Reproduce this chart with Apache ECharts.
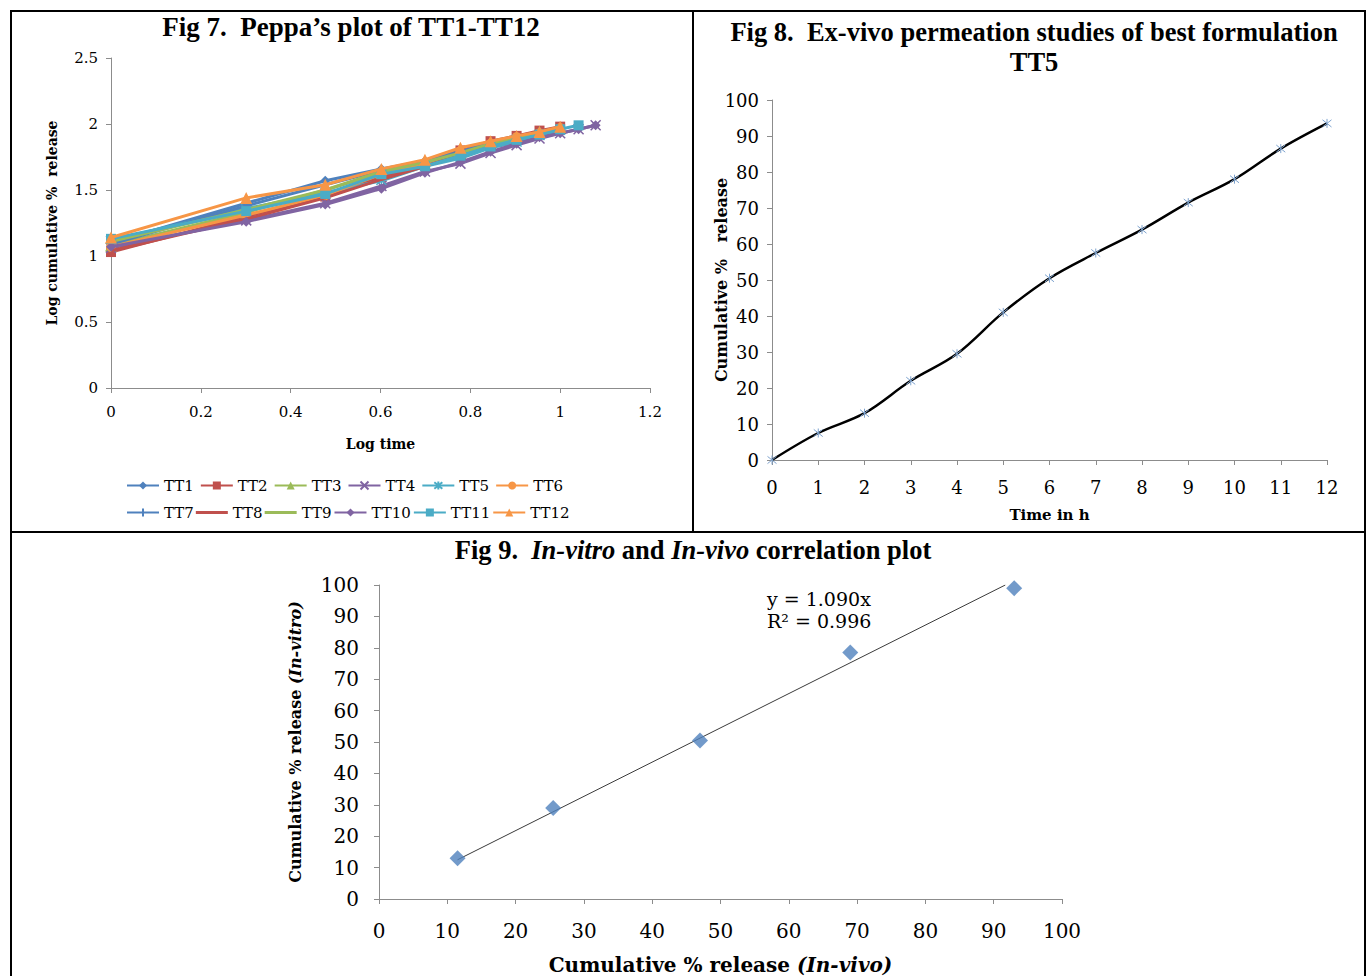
<!DOCTYPE html>
<html>
<head>
<meta charset="utf-8">
<script src="https://cdn.jsdelivr.net/npm/echarts@6/dist/echarts.min.js"></script>
<style>
html,body{margin:0;padding:0;background:#fff;}
#c{width:1366px;height:976px;}
</style>
</head>
<body>
<div id="c"></div>
<script>
// ---------- Fig 7 data (Peppas plot) ----------
const logTime = [0, 0.301, 0.477, 0.602, 0.699, 0.778, 0.845, 0.903, 0.954, 1.0, 1.041, 1.079];
const seriesNames7 = ["TT1","TT2","TT3","TT4","TT5","TT6","TT7","TT8","TT9","TT10","TT11","TT12"];
const TT1  = [1.10, 1.40, 1.57, 1.66, 1.72, 1.80, 1.86, 1.91, 1.94, 1.97];
const TT2  = [1.03, 1.30, 1.45, 1.60, 1.69, 1.80, 1.87, 1.91, 1.95, 1.98];
const TT3  = [1.08, 1.33, 1.50, 1.63, 1.70, 1.78, 1.85, 1.90, 1.94, 1.97];
const TT4  = [1.06, 1.27, 1.40, 1.53, 1.64, 1.70, 1.78, 1.84, 1.89, 1.93, 1.96, 1.99];
const TT5  = [1.12, 1.36, 1.48, 1.57, 1.68, 1.74, 1.82, 1.86, 1.91, 1.95];
const TT6  = [1.07, 1.31, 1.46, 1.62, 1.70, 1.79, 1.85, 1.90, 1.93, 1.97];
const TT7  = [1.09, 1.38, 1.54, 1.65, 1.72, 1.79, 1.86, 1.90, 1.94, 1.97];
const TT8  = [1.04, 1.28, 1.44, 1.58, 1.68, 1.77, 1.84, 1.89, 1.93, 1.96];
const TT9  = [1.11, 1.35, 1.50, 1.64, 1.71, 1.78, 1.85, 1.89, 1.93, 1.97];
const TT10 = [1.07, 1.26, 1.39, 1.51, 1.63, 1.71, 1.79, 1.85, 1.90, 1.93, 1.96, 1.99];
const TT11 = [1.13, 1.34, 1.47, 1.62, 1.68, 1.76, 1.83, 1.88, 1.92, 1.96, 1.99];
const TT12 = [1.14, 1.44, 1.54, 1.66, 1.73, 1.82, 1.87, 1.91, 1.94, 1.98];
const values7 = [TT1,TT2,TT3,TT4,TT5,TT6,TT7,TT8,TT9,TT10,TT11,TT12];

// ---------- Fig 8 data ----------
const timeH = [0,1,2,3,4,5,6,7,8,9,10,11,12];
const cumRelease = [0, 7.5, 13, 22, 29.5, 41, 50.5, 57.5, 64, 71.5, 78, 86.5, 93.5];

// ---------- Fig 9 data ----------
const inVivo  = [11.5, 25.5, 47, 69, 93];
const inVitro = [13, 29, 50.5, 78.5, 99];
const trendX = [11.5, 91.7];
const trendY = [12.5, 100];

// ---------- styles ----------
const colors7 = ["#4F81BD","#C0504D","#9BBB59","#8064A2","#4BACC6","#F79646",
                 "#4F81BD","#C0504D","#9BBB59","#8064A2","#4BACC6","#F79646"];
const crossPath = "path://M0,0L10,10M10,0L0,10";
const starPath = "path://M0,1L10,9M10,1L0,9M5,0L5,10";
const plusPath = "path://M0,5L0.01,5M5,0L5,10M9.99,5L10,5";
const lineIcon = "path://M0,0L0.01,0M0,3.5L32,3.5L32,6.5L0,6.5ZM0,10L0.01,10";
const symbols7 = ["diamond","rect","triangle",crossPath,starPath,"circle",
                  plusPath,"none","none","diamond","rect","triangle"];
const axisFont = "DejaVu Serif";
const titleFont = "Liberation Serif";
const axisLineStyle = {color:"#8c8c8c", width:1};

function pairs(xs, ys){ return ys.map((v,i)=>[xs[i], v]); }

const series = [];
values7.forEach((vals, k) => {
  const sym = symbols7[k];
  const isPath = typeof sym === "string" && sym.indexOf("path://") === 0;
  series.push({
    name: seriesNames7[k], type: "line", xAxisIndex: 0, yAxisIndex: 0,
    data: pairs(logTime, vals),
    symbol: sym, symbolSize: isPath ? 10 : (sym === "triangle" ? 12 : 10),
    showSymbol: sym !== "none",
    lineStyle: {color: colors7[k], width: 3},
    itemStyle: {color: isPath ? "rgba(0,0,0,0)" : colors7[k], borderColor: colors7[k], borderWidth: isPath ? 1.5 : 0},
    z: 2 + k, animation: false
  });
});

series.push({
  name: "Fig8", type: "line", xAxisIndex: 1, yAxisIndex: 1,
  data: pairs(timeH, cumRelease), smooth: 0.35,
  symbol: starPath, symbolSize: 9,
  lineStyle: {color: "#000", width: 2.5},
  itemStyle: {color: "rgba(0,0,0,0)", borderColor: "#7ea3cf", borderWidth: 1},
  z: 3, animation: false
});

series.push({
  name: "Trend", type: "line", xAxisIndex: 2, yAxisIndex: 2,
  data: pairs(trendX, trendY), symbol: "none",
  lineStyle: {color: "#3a3a3a", width: 1}, z: 2, animation: false
});
series.push({
  name: "Fig9", type: "scatter", xAxisIndex: 2, yAxisIndex: 2,
  data: pairs(inVivo, inVitro), symbol: "diamond", symbolSize: 16,
  itemStyle: {color: "#4F81BD"}, z: 3, animation: false
});

function legendRow(names, top, gap){
  return {
    data: names.map((n, i) => symbols7[seriesNames7.indexOf(n)] === "none" ? {name: n, icon: lineIcon} : n),
    left: 121, top: top, orient: "horizontal",
    itemWidth: 32, itemHeight: 10, itemGap: gap,
    textStyle: {fontFamily: axisFont, fontSize: 15, color: "#000"},
    selectedMode: false
  };
}

const bigTitle = "bold 27px 'Liberation Serif'";

const option = {
  backgroundColor: "#fff",
  animation: false,
  grid: [
    {left: 111, top: 58, width: 539, height: 330},
    {left: 772, top: 100, width: 555, height: 360},
    {left: 379, top: 585, width: 683, height: 317}
  ],
  legend: [
    legendRow(seriesNames7.slice(0,6), 473, 6),
    legendRow(seriesNames7.slice(6), 500, 2)
  ],
  xAxis: [
    {gridIndex: 0, type: "value", min: 0, max: 1.2, interval: 0.2,
     splitLine: {show: false}, axisLine: {lineStyle: axisLineStyle},
     axisTick: {lineStyle: axisLineStyle, length: 5},
     axisLabel: {fontFamily: axisFont, fontSize: 15, color: "#000", margin: 16},
     name: "Log time", nameLocation: "middle", nameGap: 49, nameMoveOverlap: false,
     nameTextStyle: {fontFamily: axisFont, fontSize: 14, fontWeight: "bold", color: "#000"}},
    {gridIndex: 1, type: "value", min: 0, max: 12, interval: 1,
     splitLine: {show: false}, axisLine: {lineStyle: axisLineStyle},
     axisTick: {lineStyle: axisLineStyle, length: 5},
     axisLabel: {fontFamily: axisFont, fontSize: 18, color: "#000", margin: 18},
     name: "Time in h", nameLocation: "middle", nameGap: 47, nameMoveOverlap: false,
     nameTextStyle: {fontFamily: axisFont, fontSize: 15, fontWeight: "bold", color: "#000"}},
    {gridIndex: 2, type: "value", min: 0, max: 100, interval: 10,
     splitLine: {show: false}, axisLine: {lineStyle: axisLineStyle},
     axisTick: {lineStyle: axisLineStyle, length: 5},
     axisLabel: {fontFamily: axisFont, fontSize: 20, color: "#000", margin: 22},
     name: "{b|Cumulative % release }{i|(In-vivo)}", nameLocation: "middle", nameGap: 56, nameMoveOverlap: false,
     nameTextStyle: {color: "#000", rich: {
       b: {fontFamily: axisFont, fontSize: 20, fontWeight: "bold", color: "#000"},
       i: {fontFamily: axisFont, fontSize: 20, fontWeight: "bold", fontStyle: "italic", color: "#000"}}}}
  ],
  yAxis: [
    {gridIndex: 0, type: "value", min: 0, max: 2.5, interval: 0.5,
     splitLine: {show: false}, axisLine: {show: true, lineStyle: axisLineStyle},
     axisTick: {show: true, lineStyle: axisLineStyle, length: 5},
     axisLabel: {fontFamily: axisFont, fontSize: 15, color: "#000", margin: 13},
     name: "Log cumulative %  release", nameLocation: "middle", nameGap: 52, nameMoveOverlap: false,
     nameTextStyle: {fontFamily: axisFont, fontSize: 14, fontWeight: "bold", color: "#000"}},
    {gridIndex: 1, type: "value", min: 0, max: 100, interval: 10,
     splitLine: {show: false}, axisLine: {show: true, lineStyle: axisLineStyle},
     axisTick: {show: true, lineStyle: axisLineStyle, length: 5},
     axisLabel: {fontFamily: axisFont, fontSize: 18, color: "#000", margin: 13},
     name: "Cumulative %   release", nameLocation: "middle", nameGap: 43, nameMoveOverlap: false,
     nameTextStyle: {fontFamily: axisFont, fontSize: 16, fontWeight: "bold", color: "#000"}},
    {gridIndex: 2, type: "value", min: 0, max: 100, interval: 10,
     splitLine: {show: false}, axisLine: {show: true, lineStyle: axisLineStyle},
     axisTick: {show: true, lineStyle: axisLineStyle, length: 5},
     axisLabel: {fontFamily: axisFont, fontSize: 20, color: "#000", margin: 20},
     name: "{b|Cumulative % release }{i|(In-vitro)}", nameLocation: "middle", nameGap: 76, nameMoveOverlap: false,
     nameTextStyle: {color: "#000", rich: {
       b: {fontFamily: axisFont, fontSize: 16, fontWeight: "bold", color: "#000"},
       i: {fontFamily: axisFont, fontSize: 16, fontWeight: "bold", fontStyle: "italic", color: "#000"}}}}
  ],
  series: series,
  graphic: [
    // panel borders
    {type: "line", shape: {x1: 10, y1: 11, x2: 1366, y2: 11}, style: {stroke: "#000", lineWidth: 2}},
    {type: "line", shape: {x1: 11, y1: 10, x2: 11, y2: 976}, style: {stroke: "#000", lineWidth: 2}},
    {type: "line", shape: {x1: 1365, y1: 10, x2: 1365, y2: 976}, style: {stroke: "#000", lineWidth: 2}},
    {type: "line", shape: {x1: 693, y1: 10, x2: 693, y2: 532}, style: {stroke: "#000", lineWidth: 2}},
    {type: "line", shape: {x1: 10, y1: 532, x2: 1366, y2: 532}, style: {stroke: "#000", lineWidth: 2}},
    // titles
    {type: "text", x: 351, y: 27, style: {text: "Fig 7.  Peppa\u2019s plot of TT1-TT12", textAlign: "center", textVerticalAlign: "middle",
      font: bigTitle, fill: "#000"}},
    {type: "text", x: 1034, y: 32, style: {text: "Fig 8.  Ex-vivo permeation studies of best formulation", textAlign: "center", textVerticalAlign: "middle",
      font: "bold 26.5px 'Liberation Serif'", fill: "#000"}},
    {type: "text", x: 1034, y: 62, style: {text: "TT5", textAlign: "center", textVerticalAlign: "middle",
      font: "bold 26.5px 'Liberation Serif'", fill: "#000"}},
    {type: "text", x: 693, y: 550, style: {
      text: "{b|Fig 9.  }{i|In-vitro}{b| and }{i|In-vivo}{b| correlation plot}",
      textAlign: "center", textVerticalAlign: "middle",
      rich: {
        b: {fontFamily: titleFont, fontSize: 26.5, fontWeight: "bold", fill: "#000"},
        i: {fontFamily: titleFont, fontSize: 26.5, fontWeight: "bold", fontStyle: "italic", fill: "#000"}
      }}},
    // regression annotation
    {type: "text", x: 767, y: 599, style: {text: "y = 1.090x", textVerticalAlign: "middle",
      font: "19px 'DejaVu Serif'", fill: "#000"}},
    {type: "text", x: 767, y: 621, style: {text: "R\u00b2 = 0.996", textVerticalAlign: "middle",
      font: "19px 'DejaVu Serif'", fill: "#000"}}
  ]
};

const chart = echarts.init(document.getElementById("c"), null, {renderer: "svg"});
chart.setOption(option);
</script>
</body>
</html>
